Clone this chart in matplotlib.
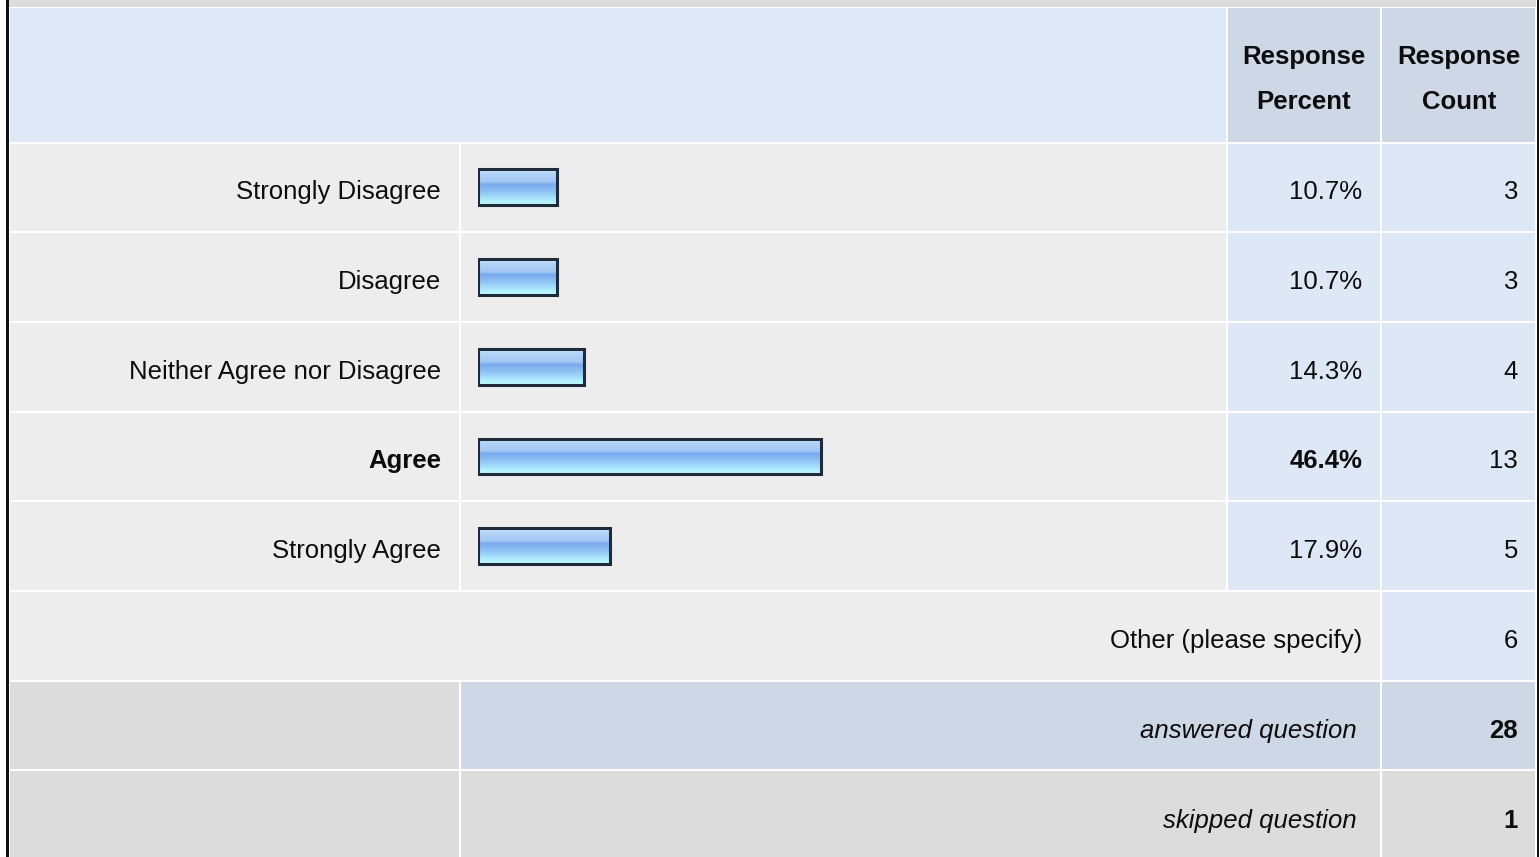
import numpy as np
import matplotlib
matplotlib.use("Agg")
import matplotlib.pyplot as plt
from matplotlib.patches import Rectangle
from matplotlib.colors import LinearSegmentedColormap

# ---------------- data ----------------
categories = ["Strongly Disagree", "Disagree", "Neither Agree nor Disagree",
              "Agree", "Strongly Agree"]
percents = [10.7, 10.7, 14.3, 46.4, 17.9]
counts = [3, 3, 4, 13, 5]
header_percent = ["Response", "Percent"]
header_count = ["Response", "Count"]
other_label = "Other (please specify)"
other_count = 6
answered_label = "answered question"
answered_count = 28
skipped_label = "skipped question"
skipped_count = 1

# ---------------- style ----------------
plt.rcParams["font.family"] = ["Liberation Sans", "DejaVu Sans"]
FS = 18.5
C_LABEL = "#ededed"
C_HEAD = "#dfe8f6"
C_HEAD2 = "#cdd7e6"
C_CELL = "#dde7f5"
C_GRAY = "#dcdcdc"
C_ANS = "#cdd7e6"
TXT = "#0d0d0d"

W, H = 1540, 857
fig = plt.figure(figsize=(W / 100, H / 100), dpi=100)
fig.patch.set_facecolor("white")
ax = fig.add_axes([0, 0, 1, 1])
ax.set_xlim(0, W)
ax.set_ylim(H, 0)
ax.axis("off")

# column / row boundaries (pixels)
X0, C1, C2, C3, X1 = 9, 460, 1227, 1381, 1536
HEAD_T, HEAD_B = 8, 142.5
RH = 89.7
row_top = [HEAD_B + RH * i for i in range(9)]


def cell(x0, y0, x1, y1, color):
    ax.add_patch(Rectangle((x0 + 1, y0 + 1), (x1 - x0) - 2, (y1 - y0) - 2,
                           facecolor=color, edgecolor="none", zorder=1))


# top strip
ax.add_patch(Rectangle((X0, 0), X1 - X0, 6.5, facecolor=C_GRAY, edgecolor="none", zorder=1))
# header
cell(X0, HEAD_T - 1, C2, HEAD_B, C_HEAD)
cell(C2, HEAD_T - 1, C3, HEAD_B, C_HEAD2)
cell(C3, HEAD_T - 1, X1, HEAD_B, C_HEAD2)

n = len(categories)
for i in range(n):
    t, b = row_top[i], row_top[i + 1]
    cell(X0, t, C1, b, C_LABEL)
    cell(C1, t, C2, b, C_LABEL)
    cell(C2, t, C3, b, C_CELL)
    cell(C3, t, X1, b, C_CELL)
# other row
t, b = row_top[n], row_top[n + 1]
cell(X0, t, C3, b, C_LABEL)
cell(C3, t, X1, b, C_CELL)
# answered row
t, b = row_top[n + 1], row_top[n + 2]
cell(X0, t, C1, b, C_GRAY)
cell(C1, t, C3, b, C_ANS)
cell(C3, t, X1, b, C_ANS)
# skipped row
t, b = row_top[n + 2], H + 5
cell(X0, t, C1, b, C_GRAY)
cell(C1, t, C3, b, C_GRAY)
cell(C3, t, X1, b, C_GRAY)

# black side borders
ax.add_patch(Rectangle((6, 0), 2.6, H, facecolor="#111111", edgecolor="none", zorder=3))
ax.add_patch(Rectangle((1536.8, 0), 2.6, H, facecolor="#111111", edgecolor="none", zorder=3))

# header text
for lines, cx in ((header_percent, (C2 + C3) / 2 - 0.5), (header_count, (C3 + X1) / 2 + 0.5)):
    ax.text(cx, 57, lines[0], ha="center", va="center", fontsize=FS, fontweight="bold", color=TXT, zorder=4)
    ax.text(cx, 102, lines[1], ha="center", va="center", fontsize=FS, fontweight="bold", color=TXT, zorder=4)

imax = int(np.argmax(percents))
for i in range(n):
    cy = (row_top[i] + row_top[i + 1]) / 2 + 5
    wt = "bold" if i == imax else "normal"
    ax.text(441, cy, categories[i], ha="right", va="center", fontsize=FS, fontweight=wt, color=TXT, zorder=4)
    ax.text(1362, cy, f"{percents[i]:.1f}%", ha="right", va="center", fontsize=FS, fontweight=wt, color=TXT, zorder=4)
    ax.text(1518, cy, f"{counts[i]}", ha="right", va="center", fontsize=FS, color=TXT, zorder=4)

cy = (row_top[n] + row_top[n + 1]) / 2 + 5
ax.text(1362, cy, other_label, ha="right", va="center", fontsize=FS, color=TXT, zorder=4)
ax.text(1518, cy, f"{other_count}", ha="right", va="center", fontsize=FS, color=TXT, zorder=4)
cy = (row_top[n + 1] + row_top[n + 2]) / 2 + 5
ax.text(1357, cy, answered_label, ha="right", va="center", fontsize=FS, style="italic", color=TXT, zorder=4)
ax.text(1518, cy, f"{answered_count}", ha="right", va="center", fontsize=FS, fontweight="bold", color=TXT, zorder=4)
cy = (row_top[n + 2] + H) / 2 + 7
ax.text(1357, cy, skipped_label, ha="right", va="center", fontsize=FS, style="italic", color=TXT, zorder=4)
ax.text(1518, cy, f"{skipped_count}", ha="right", va="center", fontsize=FS, fontweight="bold", color=TXT, zorder=4)

# ---------------- bars ----------------
bx0, bw = 478, 739  # 0..100 %
top_px, bot_px = row_top[0], row_top[n]
bax = fig.add_axes([bx0 / W, 1 - bot_px / H, bw / W, (bot_px - top_px) / H])
bax.set_xlim(0, 100)
bax.set_ylim(n - 0.5, -0.5)
bax.axis("off")
bax.patch.set_alpha(0)

grad_cmap = LinearSegmentedColormap.from_list(
    "bar", [(0.0, "#d2e7fc"), (0.12, "#b3d4f8"), (0.36, "#a2c6f4"),
            (0.42, "#78a9ee"), (0.62, "#8fc0f3"), (0.85, "#ace9fd"), (1.0, "#c2fcff")])
grad = np.linspace(0, 1, 64).reshape(-1, 1)
bh = 0.40
ypos = np.arange(n)
for i, p in enumerate(percents):
    bax.imshow(grad, cmap=grad_cmap, aspect="auto", origin="upper",
               extent=(0, p, ypos[i] + bh / 2, ypos[i] - bh / 2), zorder=2, interpolation="bilinear")
bax.barh(ypos, percents, height=bh, left=0, fill=False, edgecolor="#1d2b3b", linewidth=2.2, zorder=3)
bax.set_xlim(0, 100)
bax.set_ylim(n - 0.5, -0.5)

fig.savefig("out.png", dpi=100, facecolor=fig.get_facecolor())
